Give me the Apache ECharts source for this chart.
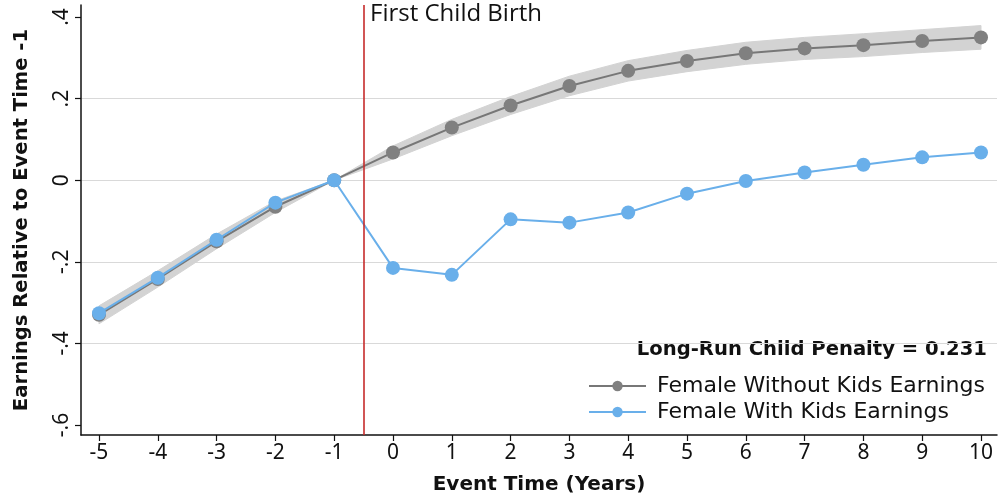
<!DOCTYPE html>
<html>
<head>
<meta charset="utf-8">
<script src="https://cdn.jsdelivr.net/npm/echarts@6/dist/echarts.min.js"></script>
<style>
  html, body { margin: 0; padding: 0; background: #ffffff; }
  #chart { width: 999px; height: 500px; }
</style>
</head>
<body>
<div id="chart"></div>
<script>
// Event time in years relative to first child birth
const eventTimes = [-5, -4, -3, -2, -1, 0, 1, 2, 3, 4, 5, 6, 7, 8, 9, 10];

// Earnings relative to event time -1, women without children
const withoutKids = [-0.330, -0.242, -0.150, -0.065, 0, 0.068, 0.129, 0.183, 0.231, 0.268, 0.292, 0.311, 0.323, 0.331, 0.341, 0.350];
// Confidence band around the no-children path
const withoutKidsLow  = [-0.352, -0.262, -0.168, -0.079, 0, 0.052, 0.109, 0.161, 0.207, 0.243, 0.266, 0.284, 0.296, 0.303, 0.313, 0.321];
const withoutKidsHigh = [-0.308, -0.222, -0.132, -0.051, 0, 0.084, 0.149, 0.205, 0.255, 0.293, 0.318, 0.338, 0.350, 0.359, 0.369, 0.379];

// Earnings relative to event time -1, women with children
const withKids = [-0.326, -0.239, -0.146, -0.055, 0, -0.215, -0.232, -0.096, -0.104, -0.079, -0.033, -0.002, 0.019, 0.038, 0.056, 0.068];

const xTicks = [-5, -4, -3, -2, -1, 0, 1, 2, 3, 4, 5, 6, 7, 8, 9, 10];
const yTicks = [-0.6, -0.4, -0.2, 0, 0.2, 0.4];
const birthTime = -0.5;
const penalty = 0.231;

const seriesNames = ['Female Without Kids Earnings', 'Female With Kids Earnings'];

const FONT = 'Noto Sans';
const WIDE = 'DejaVu Sans';
const GRAY = '#808080';
const BLUE = '#69afea';

function stataNum(v) {
  if (v === 0) return '0';
  const s = String(Math.abs(v)).replace(/^0/, '');
  return (v < 0 ? '-' : '') + s;
}

const chart = echarts.init(document.getElementById('chart'), null, { renderer: 'canvas' });

const bandRows = eventTimes.map((t, i) => [t, withoutKidsLow[i], withoutKidsHigh[i]]);

chart.setOption({
  animation: false,
  backgroundColor: '#ffffff',
  grid: { left: 81, right: 2, top: 5, bottom: 65, containLabel: false, outerBoundsMode: 'none' },
  xAxis: {
    type: 'value',
    min: -5.306,
    max: 10.272,
    name: 'Event Time (Years)',
    nameLocation: 'middle',
    nameGap: 40,
    nameTextStyle: { fontFamily: WIDE, fontSize: 20, fontWeight: 'bold', color: '#111' },
    axisLine: { show: true, onZero: false, lineStyle: { color: '#111', width: 1.5 } },
    axisTick: { show: true, length: 6, customValues: xTicks, lineStyle: { color: '#111', width: 1.2 } },
    axisLabel: { customValues: xTicks, fontFamily: FONT, fontSize: 21, color: '#111', margin: 8 },
    splitLine: { show: false }
  },
  yAxis: {
    type: 'value',
    min: -0.6245,
    max: 0.4294,
    name: 'Earnings Relative to Event Time -1',
    nameLocation: 'middle',
    nameGap: 49,
    nameTextStyle: { fontFamily: WIDE, fontSize: 19.6, fontWeight: 'bold', color: '#111' },
    axisLine: { show: true, onZero: false, lineStyle: { color: '#111', width: 1.5 } },
    axisTick: { show: true, length: 6, customValues: yTicks, lineStyle: { color: '#111', width: 1.2 } },
    axisLabel: {
      customValues: yTicks, rotate: 90, fontFamily: FONT, fontSize: 21, color: '#111', margin: 8,
      formatter: stataNum
    },
    splitLine: { show: true, showMinLine: false, showMaxLine: false, lineStyle: { color: '#d9d9d9', width: 1.2 } }
  },
  legend: {
    data: seriesNames,
    orient: 'vertical',
    left: 583,
    top: 370,
    itemWidth: 57,
    itemHeight: 13,
    itemGap: 4,
    selectedMode: false,
    textStyle: { fontFamily: WIDE, fontSize: 22, color: '#111', padding: [0, 0, 0, 6] }
  },
  graphic: [
    {
      type: 'text', left: 370, top: 2,
      style: { text: 'First Child Birth', fontFamily: 'Open Sans', fontSize: 24, fill: '#111' }
    },
    {
      type: 'text', right: 12, top: 340,
      style: { text: 'Long-Run Child Penalty = ' + penalty.toFixed(3), fontFamily: WIDE, fontSize: 19.6, fontWeight: 'bold', fill: '#111' }
    }
  ],
  series: [
    {
      type: 'custom',
      name: 'band',
      z: 1,
      silent: true,
      data: bandRows,
      encode: { x: 0, y: [1, 2] },
      renderItem: function (params, api) {
        if (params.dataIndex !== 0) return null;
        const upper = bandRows.map(r => api.coord([r[0], r[2]]));
        const lower = bandRows.map(r => api.coord([r[0], r[1]])).reverse();
        return {
          type: 'polygon',
          shape: { points: upper.concat(lower) },
          style: { fill: '#d3d3d3', stroke: '#d3d3d3', lineWidth: 1 }
        };
      }
    },
    {
      type: 'line',
      name: seriesNames[0],
      z: 2,
      data: eventTimes.map((t, i) => [t, withoutKids[i]]),
      symbol: 'circle',
      symbolSize: 14,
      itemStyle: { color: GRAY },
      lineStyle: { color: '#777777', width: 2 },
      markLine: {
        silent: true,
        symbol: 'none',
        label: { show: false },
        lineStyle: { color: '#c62b2b', width: 1.6, type: 'solid' },
        data: [{ xAxis: birthTime }]
      }
    },
    {
      type: 'line',
      name: seriesNames[1],
      z: 3,
      data: eventTimes.map((t, i) => [t, withKids[i]]),
      symbol: 'circle',
      symbolSize: 14,
      itemStyle: { color: BLUE },
      lineStyle: { color: BLUE, width: 2 }
    }
  ]
});
</script>
</body>
</html>
